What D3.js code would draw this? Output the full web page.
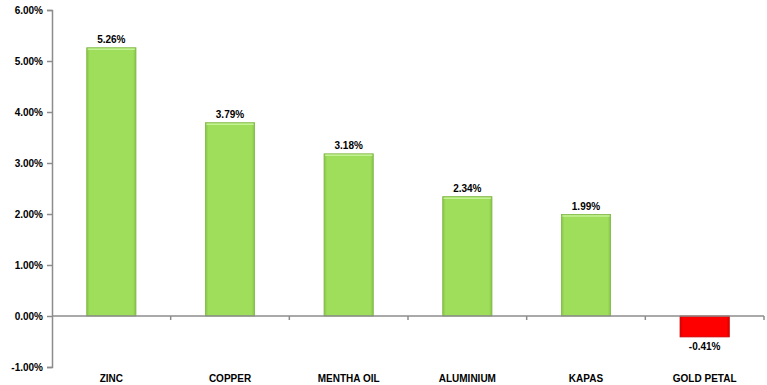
<!DOCTYPE html>
<html><head><meta charset="utf-8">
<script src="https://cdn.jsdelivr.net/npm/d3@7"></script>
<style>
body{margin:0;background:#fff;}
svg{display:block;font-family:"Liberation Sans",Arial,sans-serif;}
</style></head>
<body><svg id="c" width="767" height="385"></svg>
<script>
const categories = ["ZINC","COPPER","MENTHA OIL","ALUMINIUM","KAPAS","GOLD PETAL"];
const values = [5.26,3.79,3.18,2.34,1.99,-0.41];
const yTicks = [-1,0,1,2,3,4,5,6];

const svg = d3.select("#c");
const x = d3.scaleBand().domain(categories).range([52,764]).paddingInner(0.585).paddingOuter(0.2925);
const y = d3.scaleLinear().domain([-1,6]).range([367,10]);

const defs = svg.append("defs");
function grad(id, edge, mid){
  const g = defs.append("linearGradient").attr("id",id).attr("x1","0").attr("x2","1").attr("y1","0").attr("y2","0");
  g.append("stop").attr("offset","0").attr("stop-color",edge);
  g.append("stop").attr("offset","0.06").attr("stop-color",mid);
  g.append("stop").attr("offset","0.94").attr("stop-color",mid);
  g.append("stop").attr("offset","1").attr("stop-color",edge);
}
grad("gG","#86c24a","#9ede5b");
grad("gR","#d80000","#ff0000");

// y axis
const yAxis = svg.append("g").attr("transform","translate(52,0)")
  .call(d3.axisLeft(y).tickValues(yTicks).tickSize(5).tickFormat(d=>d.toFixed(2)+"%"));
yAxis.select(".domain").attr("stroke","#8c8c8c").attr("stroke-width",1.5);
yAxis.selectAll(".tick line").attr("stroke","#8c8c8c").attr("stroke-width",1.5);
yAxis.selectAll(".tick text").attr("x",-9).attr("font-size",10).attr("font-weight","bold").attr("fill","#000").attr("font-family","Liberation Sans, Arial, sans-serif");

// bars
const bars = svg.append("g");
bars.selectAll("rect").data(values).join("rect")
  .attr("x",(d,i)=>x(categories[i]))
  .attr("width",x.bandwidth())
  .attr("y",d=>d>=0?y(d):y(0))
  .attr("height",d=>Math.abs(y(d)-y(0)))
  .attr("fill",d=>d>=0?"url(#gG)":"url(#gR)")
  .attr("stroke",d=>d>=0?"#7fb644":"#c80000")
  .attr("stroke-width",0.8);
// top highlight for positive bars
bars.selectAll("line.hl").data(values.filter(v=>v>=0)).join("line").attr("class","hl")
  .attr("x1",(d,i)=>x(categories[i])+1).attr("x2",(d,i)=>x(categories[i])+x.bandwidth()-1)
  .attr("y1",d=>y(d)+1.5).attr("y2",d=>y(d)+1.5)
  .attr("stroke","#c4f096").attr("stroke-width",1.5);

// x axis at zero
const xAxisG = svg.append("g").attr("transform",`translate(0,${y(0)})`);
xAxisG.append("line").attr("x1",52).attr("x2",764).attr("stroke","#8c8c8c").attr("stroke-width",1.5);
const bounds = d3.range(categories.length+1).map(i=>52 + i*(764-52)/categories.length);
xAxisG.selectAll("line.t").data(bounds.slice(1)).join("line").attr("class","t")
  .attr("x1",d=>d).attr("x2",d=>d).attr("y1",0).attr("y2",4)
  .attr("stroke","#8c8c8c").attr("stroke-width",1.5);

// category labels
svg.append("g").selectAll("text").data(categories).join("text")
  .attr("x",d=>x(d)+x.bandwidth()/2).attr("y",382)
  .attr("text-anchor","middle").attr("font-size",10).attr("font-weight","bold").attr("fill","#000")
  .text(d=>d);

// value labels
svg.append("g").selectAll("text").data(values).join("text")
  .attr("x",(d,i)=>x(categories[i])+x.bandwidth()/2)
  .attr("y",d=>d>=0?y(d)-5:y(d)+13)
  .attr("text-anchor","middle").attr("font-size",10).attr("font-weight","bold").attr("fill","#000")
  .text(d=>d.toFixed(2)+"%");
</script></body></html>
